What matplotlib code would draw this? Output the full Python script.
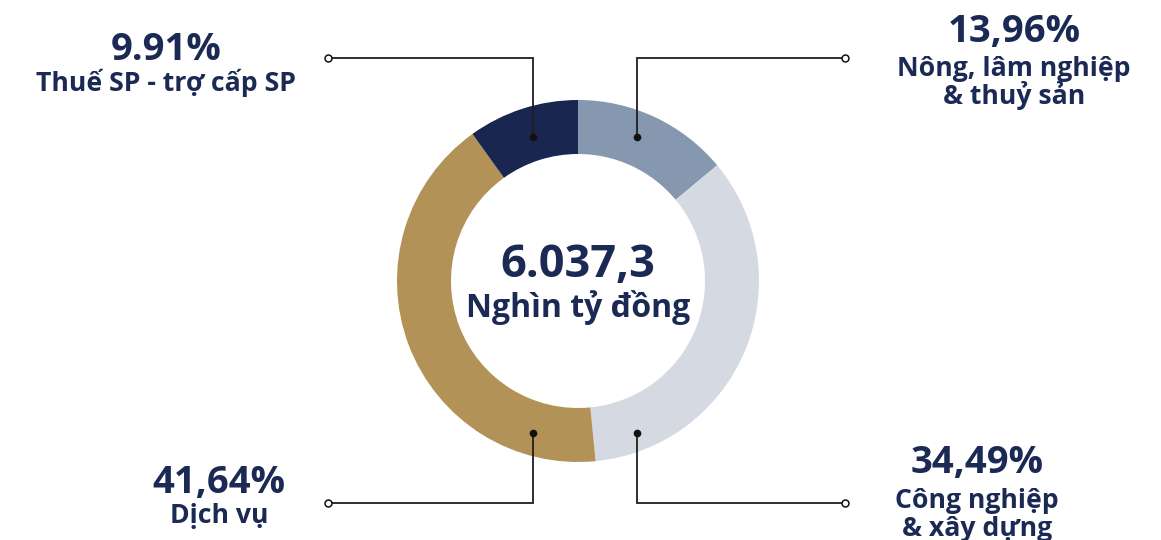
import matplotlib
matplotlib.use("Agg")
import matplotlib.pyplot as plt

# ---- data ----
categories = ["Nông, lâm nghiệp\n& thuỷ sản", "Công nghiệp\n& xây dựng", "Dịch vụ", "Thuế SP - trợ cấp SP"]
values = [13.96, 34.49, 41.64, 9.91]
pct_labels = ["13,96%", "34,49%", "41,64%", "9.91%"]
colors = ["#8698B0", "#D5D9E1", "#B39257", "#19264F"]
total_label = "6.037,3"
unit_label = "Nghìn tỷ đồng"

# ---- layout (image pixel coordinates, y measured from top) ----
W, H = 1161, 540
CX, CY = 578, 281
R_OUT, R_IN = 181, 127
TEXT_COLOR = "#1B2A55"
FONT = ["Open Sans", "DejaVu Sans"]

def Y(y):
    return H - y

# per category: dot position, elbow y, open-end x, text centre x, percent baseline, label baselines
layout = [
    dict(dot=(637, 137), ely=58, endx=845, tx=1014, pct_base=42, lab_base=[76, 104]),
    dict(dot=(637, 433), ely=503, endx=845, tx=977, pct_base=473, lab_base=[507.5, 536]),
    dict(dot=(533, 433), ely=503, endx=328, tx=219, pct_base=493, lab_base=[523]),
    dict(dot=(533, 137), ely=58, endx=328, tx=166, pct_base=60, lab_base=[91]),
]

fig = plt.figure(figsize=(W / 100, H / 100), dpi=100)
ax = fig.add_axes([0, 0, 1, 1])

ax.pie(values, colors=colors, startangle=90, counterclock=False,
       radius=R_OUT, center=(CX, Y(CY)),
       wedgeprops=dict(width=R_OUT - R_IN, linewidth=0))
ax.set_xlim(0, W)
ax.set_ylim(0, H)
ax.set_aspect("equal")
ax.axis("off")

for cat, pct, lay in zip(categories, pct_labels, layout):
    dx, dy = lay["dot"]
    ax.plot([dx, dx, lay["endx"]], [Y(dy), Y(lay["ely"]), Y(lay["ely"])],
            color="#1f1f1f", lw=1.3, solid_joinstyle="miter", zorder=3)
    ax.plot([dx], [Y(dy)], "o", ms=4.5, color="#111111", zorder=4)
    ax.plot([lay["endx"]], [Y(lay["ely"])], "o", ms=5, mfc="white",
            mec="#111111", mew=1.1, zorder=4)
    ax.text(lay["tx"], Y(lay["pct_base"]), pct, ha="center", va="baseline",
            fontsize=27.5, fontweight="bold", color=TEXT_COLOR, family=FONT)
    for line, b in zip(cat.split("\n"), lay["lab_base"]):
        ax.text(lay["tx"], Y(b), line, ha="center", va="baseline",
                fontsize=19.2, fontweight="bold", color=TEXT_COLOR, family=FONT)

ax.text(CX, Y(277), total_label, ha="center", va="baseline",
        fontsize=32.5, fontweight="bold", color=TEXT_COLOR, family=FONT)
ax.text(CX, Y(317), unit_label, ha="center", va="baseline",
        fontsize=23, fontweight="bold", color=TEXT_COLOR, family=FONT)

fig.savefig("out.png", dpi=100, facecolor="white")
